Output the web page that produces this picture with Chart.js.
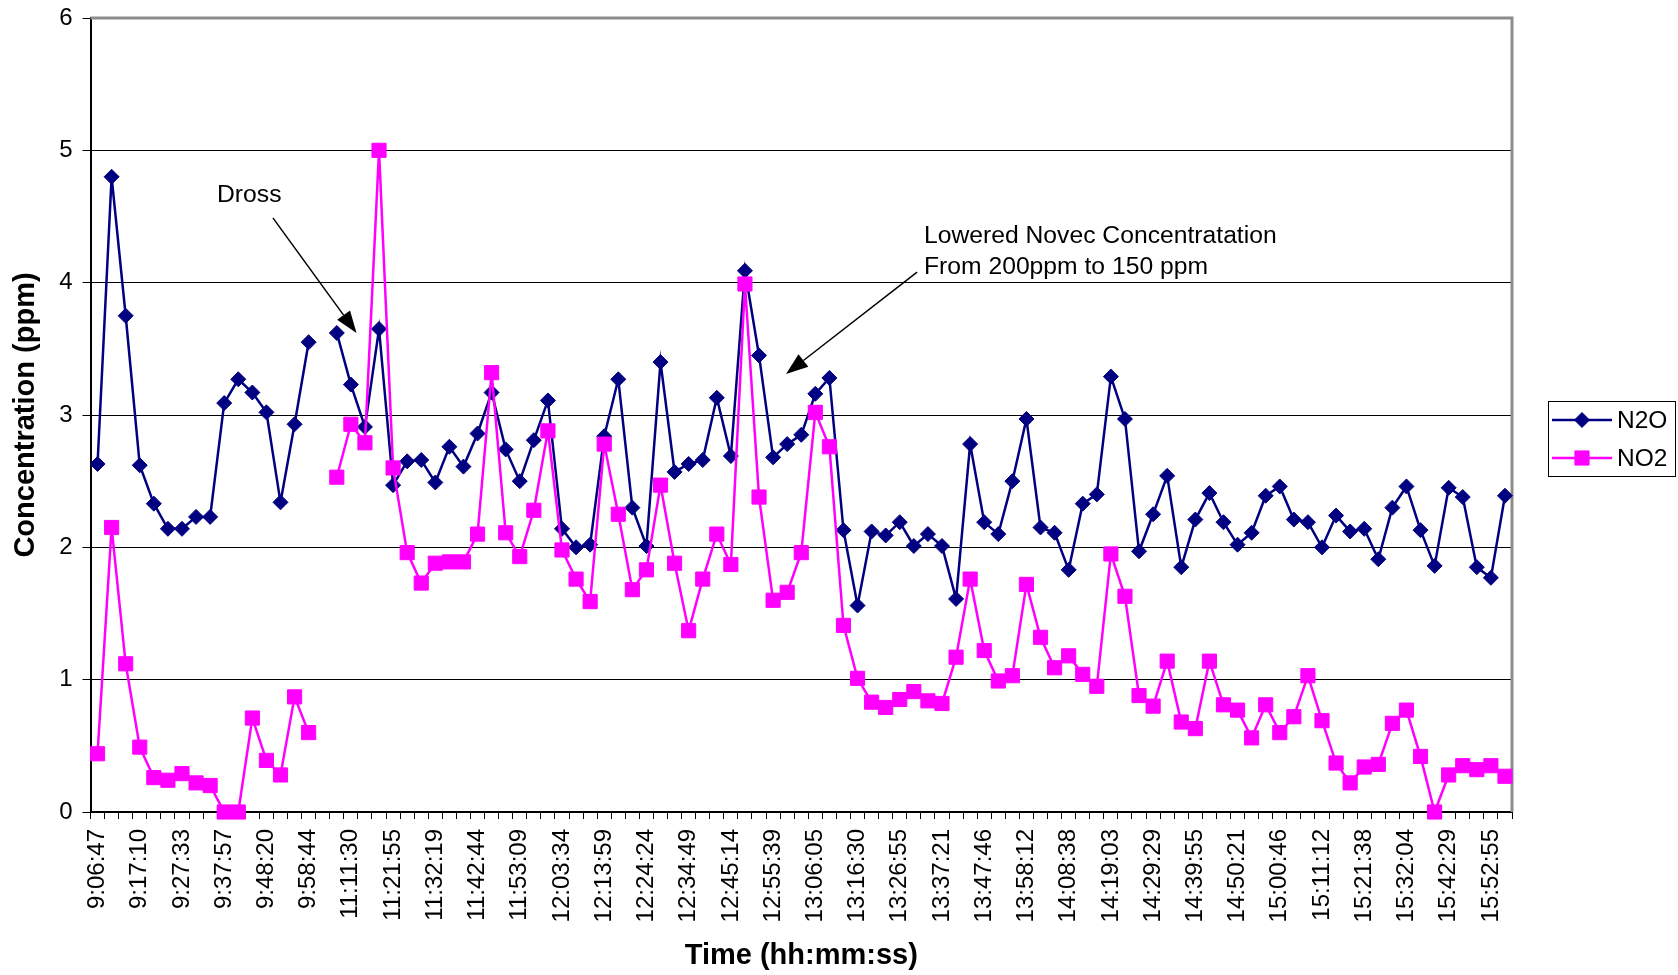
<!DOCTYPE html>
<html>
<head>
<meta charset="utf-8">
<title>N2O / NO2 concentration</title>
<script src="https://cdn.jsdelivr.net/npm/chart.js@4.4.1/dist/chart.umd.min.js"></script>
<style>
    html, body { margin: 0; padding: 0; background: #fff; }
    #wrap { width: 1678px; height: 975px; }
</style>
</head>
<body>
<div id="wrap"><canvas id="chart" width="1678" height="975"></canvas></div>
<script>
// every third sample carries a time label on the axis
const tickLabels = [
    '9:06:47', '9:17:10', '9:27:33', '9:37:57', '9:48:20', '9:58:44',
    '11:11:30', '11:21:55', '11:32:19', '11:42:44', '11:53:09', '12:03:34',
    '12:13:59', '12:24:24', '12:34:49', '12:45:14', '12:55:39', '13:06:05',
    '13:16:30', '13:26:55', '13:37:21', '13:47:46', '13:58:12', '14:08:38',
    '14:19:03', '14:29:29', '14:39:55', '14:50:21', '15:00:46', '15:11:12',
    '15:21:38', '15:32:04', '15:42:29', '15:52:55'
];

const n2o = [
    2.63, 4.80, 3.75, 2.62, 2.33, 2.14, 2.14, 2.23, 2.23, 3.09,
    3.27, 3.17, 3.02, 2.34, 2.93, 3.55, null, 3.62, 3.23, 2.91,
    3.65, 2.47, 2.65, 2.66, 2.49, 2.76, 2.61, 2.86, 3.17, 2.74,
    2.50, 2.81, 3.11, 2.14, 2.00, 2.02, 2.84, 3.27, 2.30, 2.01,
    3.40, 2.57, 2.63, 2.66, 3.13, 2.69, 4.09, 3.45, 2.68, 2.78,
    2.85, 3.16, 3.28, 2.13, 1.56, 2.12, 2.09, 2.19, 2.01, 2.10,
    2.01, 1.61, 2.78, 2.19, 2.10, 2.50, 2.97, 2.15, 2.11, 1.83,
    2.33, 2.40, 3.29, 2.97, 1.97, 2.25, 2.54, 1.85, 2.21, 2.41,
    2.19, 2.02, 2.11, 2.39, 2.46, 2.21, 2.19, 2.00, 2.24, 2.12,
    2.14, 1.91, 2.30, 2.46, 2.13, 1.86, 2.45, 2.38, 1.85, 1.77,
    2.39
];

const no2 = [
    0.44, 2.15, 1.12, 0.49, 0.26, 0.24, 0.29, 0.22, 0.20, 0.00,
    0.00, 0.71, 0.39, 0.28, 0.87, 0.60, null, 2.53, 2.93, 2.79,
    5.00, 2.60, 1.96, 1.73, 1.88, 1.89, 1.89, 2.10, 3.32, 2.11,
    1.93, 2.28, 2.88, 1.98, 1.76, 1.59, 2.78, 2.25, 1.68, 1.83,
    2.47, 1.88, 1.37, 1.76, 2.10, 1.87, 3.99, 2.38, 1.60, 1.66,
    1.96, 3.02, 2.76, 1.41, 1.01, 0.83, 0.79, 0.85, 0.91, 0.84,
    0.82, 1.17, 1.76, 1.22, 0.99, 1.03, 1.72, 1.32, 1.09, 1.18,
    1.04, 0.95, 1.95, 1.63, 0.88, 0.80, 1.14, 0.68, 0.63, 1.14,
    0.81, 0.77, 0.56, 0.81, 0.60, 0.72, 1.03, 0.69, 0.37, 0.22,
    0.34, 0.36, 0.67, 0.77, 0.42, 0.00, 0.28, 0.35, 0.32, 0.35,
    0.27
];

const categories = n2o.map((v, i) => (i % 3 === 0 ? tickLabels[i / 3] : ''));

// notes on the plot, anchored in data space: [category index, ppm]
const noteTexts = [
    { text: 'Dross', at: [10.78, 4.66], align: 'center' },
    { text: 'Lowered Novec Concentratation', at: [58.72, 4.354], align: 'left' },
    { text: 'From 200ppm to 150 ppm', at: [58.72, 4.119], align: 'left' }
];
const noteArrows = [
    { from: [12.46, 4.49], to: [18.4, 3.62] },
    { from: [58.23, 4.08], to: [48.92, 3.31] }
];

const FONT = "'Liberation Sans', Arial, sans-serif";

const plotFrame = {
    id: 'plotFrame',
    beforeDatasetsDraw(chart) {
        const { ctx, chartArea: a } = chart;
        ctx.save();
        ctx.strokeStyle = '#8c8c8c';
        ctx.lineWidth = 3;
        ctx.beginPath();
        ctx.moveTo(a.left, a.top);
        ctx.lineTo(a.right, a.top);
        ctx.lineTo(a.right, a.bottom);
        ctx.stroke();
        ctx.restore();
    }
};

const notes = {
    id: 'notes',
    afterDatasetsDraw(chart) {
        const { ctx, scales } = chart;
        const px = (p) => [scales.x.getPixelForValue(p[0]), scales.y.getPixelForValue(p[1])];
        ctx.save();
        ctx.fillStyle = '#000';
        ctx.font = '24.7px ' + FONT;
        ctx.textBaseline = 'middle';
        noteTexts.forEach((n) => {
            const [x, y] = px(n.at);
            ctx.textAlign = n.align;
            ctx.fillText(n.text, x, y);
        });
        ctx.strokeStyle = '#000';
        ctx.lineWidth = 1.5;
        noteArrows.forEach((a) => {
            const [x1, y1] = px(a.from);
            const [x2, y2] = px(a.to);
            const ang = Math.atan2(y2 - y1, x2 - x1);
            const len = 22, half = 8;
            const bx = x2 - len * Math.cos(ang);
            const by = y2 - len * Math.sin(ang);
            ctx.beginPath();
            ctx.moveTo(x1, y1);
            ctx.lineTo(bx, by);
            ctx.stroke();
            ctx.beginPath();
            ctx.moveTo(x2, y2);
            ctx.lineTo(bx + half * Math.sin(ang), by - half * Math.cos(ang));
            ctx.lineTo(bx - half * Math.sin(ang), by + half * Math.cos(ang));
            ctx.closePath();
            ctx.fill();
        });
        ctx.restore();
    }
};

const sideLegend = {
    id: 'sideLegend',
    afterDraw(chart) {
        const { ctx } = chart;
        const box = { x: 1548.5, y: 401.5, w: 127, h: 75 };
        ctx.save();
        ctx.strokeStyle = '#000';
        ctx.lineWidth = 1;
        ctx.strokeRect(box.x, box.y, box.w, box.h);
        chart.data.datasets.forEach((ds, i) => {
            const y = 420 + i * 38;
            ctx.strokeStyle = ds.borderColor;
            ctx.fillStyle = ds.backgroundColor;
            ctx.lineWidth = ds.borderWidth;
            ctx.beginPath();
            ctx.moveTo(1552, y);
            ctx.lineTo(1612, y);
            ctx.stroke();
            ctx.lineWidth = ds.pointBorderWidth;
            Chart.helpers.drawPoint(ctx, {
                pointStyle: ds.pointStyle,
                radius: ds.pointRadius,
                borderWidth: ds.pointBorderWidth,
                rotation: 0
            }, 1582, y);
            ctx.fillStyle = '#000';
            ctx.font = '24.5px ' + FONT;
            ctx.textAlign = 'left';
            ctx.textBaseline = 'middle';
            ctx.fillText(ds.label, 1617, y + 1);
        });
        ctx.restore();
    }
};

document.addEventListener('DOMContentLoaded', () => {
    const ctx = document.getElementById('chart').getContext('2d');

    new Chart(ctx, {
        type: 'line',
        data: {
            labels: categories,
            datasets: [
                {
                    label: 'N2O',
                    data: n2o,
                    borderColor: '#000080',
                    backgroundColor: '#000080',
                    borderWidth: 2.5,
                    pointStyle: 'rectRot',
                    pointRadius: 7.5,
                    pointBorderWidth: 1,
                    tension: 0,
                    spanGaps: false,
                    clip: false,
                    order: 1
                },
                {
                    label: 'NO2',
                    data: no2,
                    borderColor: '#FF00FF',
                    backgroundColor: '#FF00FF',
                    borderWidth: 2.5,
                    pointStyle: 'rect',
                    pointRadius: 10,
                    pointBorderWidth: 1,
                    tension: 0,
                    spanGaps: false,
                    clip: false,
                    order: 0
                }
            ]
        },
        options: {
            responsive: false,
            animation: false,
            events: [],
            layout: {
                padding: { top: 18, right: 166, bottom: 0, left: 0 }
            },
            plugins: {
                legend: { display: false },
                tooltip: { enabled: false }
            },
            scales: {
                x: {
                    offset: true,
                    afterFit(scale) {
                        scale.height = 163;
                    },
                    grid: {
                        offset: true,
                        drawOnChartArea: false,
                        drawTicks: true,
                        tickLength: 7,
                        color: '#000',
                        lineWidth: 1
                    },
                    border: { color: '#000', width: 2 },
                    ticks: {
                        autoSkip: false,
                        minRotation: 90,
                        maxRotation: 90,
                        padding: 10,
                        color: '#000',
                        font: { family: FONT, size: 24 }
                    },
                    title: {
                        display: true,
                        text: 'Time (hh:mm:ss)',
                        color: '#000',
                        padding: { top: 0, bottom: 2 },
                        font: { family: FONT, size: 29, weight: 'bold' }
                    }
                },
                y: {
                    min: 0,
                    max: 6,
                    afterFit(scale) {
                        scale.width = 90.5;
                        // let the layout padding alone decide the top edge
                        scale.paddingTop = 0;
                        scale.paddingBottom = 0;
                    },
                    grid: {
                        color: '#000',
                        lineWidth: 1,
                        drawTicks: true,
                        tickLength: 8
                    },
                    border: { color: '#000', width: 2 },
                    ticks: {
                        stepSize: 1,
                        padding: 10,
                        color: '#000',
                        font: { family: FONT, size: 24 }
                    },
                    title: {
                        display: true,
                        text: 'Concentration (ppm)',
                        color: '#000',
                        padding: { top: 9, bottom: 0 },
                        font: { family: FONT, size: 29, weight: 'bold' }
                    }
                }
            }
        },
        plugins: [plotFrame, notes, sideLegend]
    });
});
</script>
</body>
</html>
